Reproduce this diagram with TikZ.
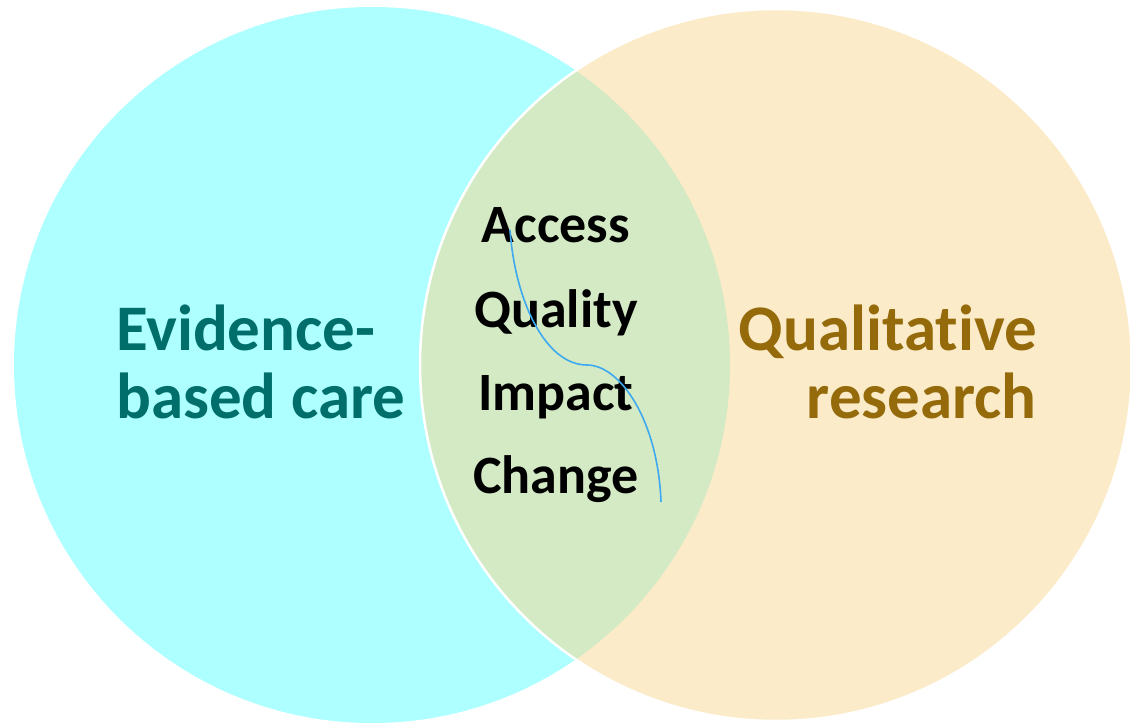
\documentclass[tikz,border=0pt]{standalone}
\usepackage{fontspec}
\setmainfont{Carlito}[Ligatures=NoCommon]
\definecolor{cyanfill}{HTML}{AEFFFF}
\definecolor{orangefill}{HTML}{FBEBC8}
\definecolor{greenfill}{HTML}{D4EAC4}
\definecolor{tealtext}{HTML}{006E6A}
\definecolor{goldtext}{HTML}{946A0A}
\definecolor{curveblue}{HTML}{3DA9F0}
\begin{document}
\begin{tikzpicture}[x=1pt,y=-1pt,
  bigleft/.style={font=\bfseries\fontsize{65}{68}\selectfont, text=tealtext, inner sep=0, anchor=base west},
  bigright/.style={font=\bfseries\fontsize{65}{68}\selectfont, text=goldtext, inner sep=0, anchor=base east},
  midword/.style={font=\bfseries\fontsize{54}{60}\selectfont, text=black, inner sep=0, anchor=base}]
\useasboundingbox (0,0) rectangle (1130,723);
\fill[cyanfill] (372,365) circle[radius=358];
\fill[orangefill] (776,365) circle[radius=356];
\begin{scope}
  \clip (372,365) circle[radius=358];
  \fill[greenfill] (776,365) circle[radius=356];
\end{scope}
\draw[white, line width=2.5] (776,365) circle[radius=356];
\node[bigleft] (ev1) at (116,350) {Evidence-};
\node[bigleft] (ev2) at (116,418) {based care};
\node[bigright] (qr1) at (1037,350) {Qualitative};
\node[bigright] (qr2) at (1037,418) {research};
\node[midword] (w1) at (556,242) {Access};
\node[midword] (w2) at (556,327) {Quality};
\node[midword] (w3) at (556,410) {Impact};
\node[midword] (w4) at (556,493) {Change};
\coordinate (cs) at (510,230);
\coordinate (cm) at (587,365);
\coordinate (ce) at (661,502);
\draw[curveblue, line width=1.6] (cs) .. controls (515,300) and (545,365) .. (cm)
  .. controls (620,365) and (658,420) .. (ce);
\end{tikzpicture}
\end{document}
